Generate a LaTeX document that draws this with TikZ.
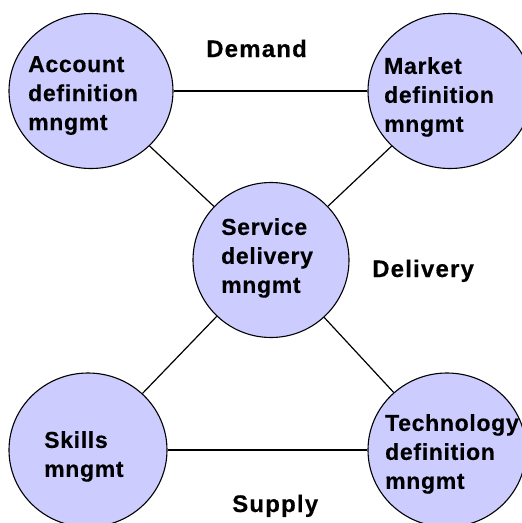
\documentclass[tikz,border=0pt]{standalone}
\usepackage{fontspec}
\usetikzlibrary{shapes.geometric}
\newfontfamily\bubblefont{Liberation Sans}[LetterSpace=3,FakeBold=0.4]
\newfontfamily\tagfont{Liberation Sans}[LetterSpace=5,FakeBold=0.4]
\definecolor{bubblefill}{RGB}{204,204,255}
\begin{document}
\begin{tikzpicture}[x=1pt,y=-1pt,
  bubble/.style={ellipse,draw=black,line width=1.1pt,fill=bubblefill,inner sep=0pt},
  bubbletext/.style={anchor=north west,inner sep=0pt,align=left,
    font=\bubblefont\bfseries\fontsize{23}{29}\selectfont},
  tag/.style={anchor=base west,inner sep=0pt,font=\tagfont\bfseries\fontsize{24}{28}\selectfont},
  link/.style={draw=black,line width=1.2pt}]
  \useasboundingbox (0,0) rectangle (522,523);
  \clip (0,0) rectangle (522,523);

  % bubbles
  \node[bubble,minimum width=164pt,minimum height=155pt] (acc) at (91,91) {};
  \node[bubble,minimum width=164pt,minimum height=155pt] (mkt) at (450,91) {};
  \node[bubble,minimum width=156pt,minimum height=155pt] (svc) at (271,260) {};
  \node[bubble,minimum width=158pt,minimum height=154pt] (skl) at (88,450) {};
  \node[bubble,minimum width=158pt,minimum height=154pt] (tec) at (447,450) {};

  % connectors
  \draw[link] (acc) -- (mkt);
  \draw[link] (skl) -- (tec);
  \draw[link] (acc) -- (svc);
  \draw[link] (mkt) -- (svc);
  \draw[link] (svc) -- (skl);
  \draw[link] (svc) -- (tec);

  % bubble labels
  \node[bubbletext] (accT) at (28,56) {Account\\definition\\mngmt};
  \node[bubbletext] (mktT) at (384,57) {Market\\definition\\mngmt};
  \node[bubbletext] (svcT) at (221,218) {Service\\delivery\\mngmt};
  \node[bubbletext] (sklT) at (44,431) {Skills\\mngmt};
  \node[bubbletext] (tecT) at (385,414) {Technology\\definition\\mngmt};

  % layer names
  \node[tag] (dem) at (206,57) {Demand};
  \node[tag] (del) at (372,277) {Delivery};
  \node[tag] (sup) at (232,512) {Supply};
\end{tikzpicture}
\end{document}
